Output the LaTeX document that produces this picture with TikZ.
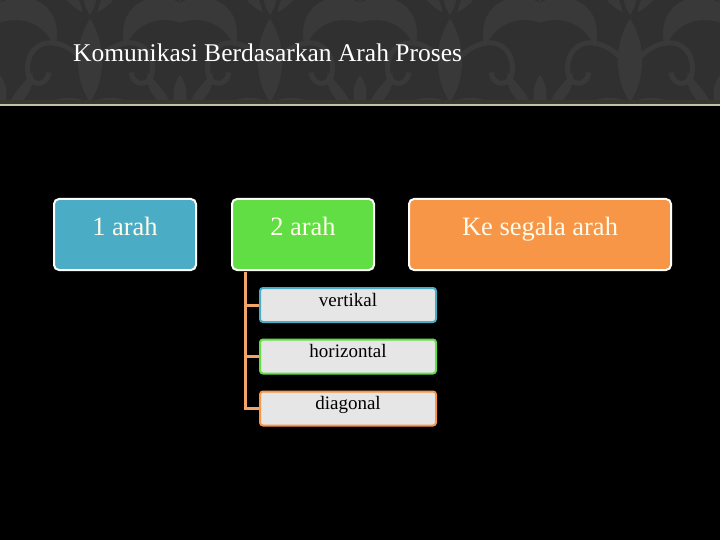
\documentclass[tikz,border=0pt]{standalone}
\usepackage{fontspec}
\setmainfont{Liberation Serif}
\definecolor{bannerbg}{HTML}{303030}
\definecolor{damask}{HTML}{393939}
\definecolor{rulebeige}{HTML}{C4C2A6}
\definecolor{ruledark}{HTML}{383832}
\definecolor{accblue}{HTML}{4BACC6}
\definecolor{accgreen}{HTML}{62DE45}
\definecolor{accorange}{HTML}{F79646}
\definecolor{subfill}{HTML}{E6E6E6}
\definecolor{linkorange}{HTML}{F2A566}
\definecolor{cream}{HTML}{FFFBEA}
\tikzset{
  mainbox/.style={draw=white, line width=2pt, rounded corners=5pt,
    minimum height=71pt, inner sep=0pt, text=cream,
    font=\fontsize{26.5}{30}\selectfont, text height=10pt, text depth=7pt},
  subbox/.style={fill=subfill, line width=2pt, rounded corners=3pt,
    minimum width=176pt, minimum height=34pt, inner sep=0pt, text=black,
    font=\fontsize{19}{22}\selectfont, text height=7pt, text depth=5pt},
  link/.style={draw=linkorange, line width=3pt},
  motif/.pic={
    \fill[damask] (0,-5) .. controls (13,15) and (13,42) .. (0,62)
                         .. controls (-13,42) and (-13,15) .. (0,-5) -- cycle;
    \fill[damask] (0,62) .. controls (28,50) and (52,68) .. (44,98)
                         .. controls (36,80) and (20,72) .. (0,78) -- cycle;
    \fill[damask] (0,62) .. controls (-28,50) and (-52,68) .. (-44,98)
                         .. controls (-36,80) and (-20,72) .. (0,78) -- cycle;
    \draw[damask, line width=5pt] (4,30) .. controls (25,5) and (50,12) .. (50,35)
                         .. controls (50,50) and (34,50) .. (33,38);
    \draw[damask, line width=5pt] (-4,30) .. controls (-25,5) and (-50,12) .. (-50,35)
                         .. controls (-50,50) and (-34,50) .. (-33,38);
    \fill[damask] (0,-8) .. controls (8,-20) and (6,-32) .. (0,-40)
                         .. controls (-6,-32) and (-8,-20) .. (0,-8) -- cycle;
    \fill[damask] (6,-10) .. controls (20,-18) and (28,-30) .. (26,-42)
                         .. controls (16,-30) and (8,-24) .. (6,-10) -- cycle;
    \fill[damask] (-6,-10) .. controls (-20,-18) and (-28,-30) .. (-26,-42)
                         .. controls (-16,-30) and (-8,-24) .. (-6,-10) -- cycle;
  }
}
\begin{document}
\begin{tikzpicture}[x=1pt,y=-1pt]
\useasboundingbox (0,0) rectangle (720,540);
\fill[black] (0,0) rectangle (720,540);
\fill[bannerbg] (0,0) rectangle (720,104);
\begin{scope}
  \clip (0,0) rectangle (720,100);
  \foreach \mx in {90,270,450,630} { \pic[scale=1.25] at (\mx,25) {motif}; }
  \foreach \mx in {0,180,360,540,720} { \pic[scale=1.25] at (\mx,-75) {motif}; \pic[scale=1.25] at (\mx,125) {motif}; }
\end{scope}
\fill[ruledark] (0,100) rectangle (720,104);
\fill[rulebeige] (0,104) rectangle (720,106.5);

\node[anchor=base west, inner sep=0pt, text=white, font=\fontsize{25.5}{29}\selectfont] (title) at (73,62) {Komunikasi Berdasarkan Arah Proses};

\node[mainbox, fill=accblue, minimum width=142pt] (b1) at (125,234.5) {1 arah};
\node[mainbox, fill=accgreen, minimum width=142pt] (b2) at (303,234.5) {2 arah};
\node[mainbox, fill=accorange, minimum width=262pt] (b3) at (540,234.5) {Ke segala arah};

\node[subbox, draw=accblue] (s1) at (348,305) {vertikal};
\node[subbox, draw=accgreen] (s2) at (348,356.5) {horizontal};
\node[subbox, draw=accorange] (s3) at (348,408.5) {diagonal};

\coordinate (trunk) at ([xshift=14pt,yshift=-1pt]b2.south west);
\draw[link] (trunk) |- (s3.west);
\draw[link] (s1.west) -- (s1.west -| trunk);
\draw[link] (s2.west) -- (s2.west -| trunk);
\end{tikzpicture}
\end{document}
